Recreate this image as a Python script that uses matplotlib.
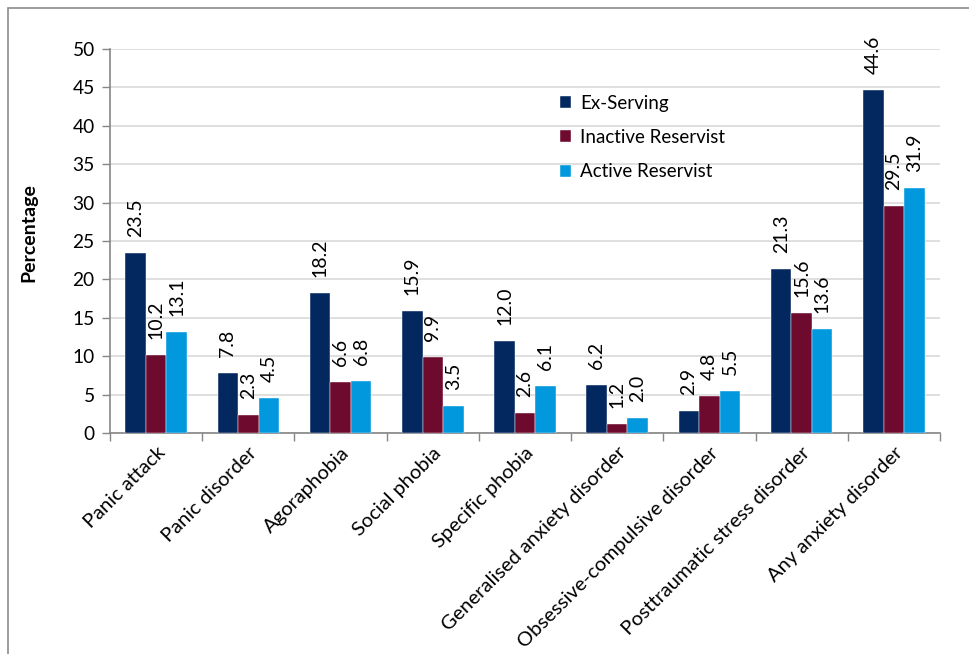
import matplotlib
matplotlib.use("Agg")
import matplotlib.pyplot as plt
import numpy as np
from matplotlib.patches import Rectangle

plt.rcParams['font.family'] = ['Lato', 'DejaVu Sans']

categories = ["Panic attack", "Panic disorder", "Agoraphobia", "Social phobia",
              "Specific phobia", "Generalised anxiety disorder",
              "Obsessive-compulsive disorder", "Posttraumatic stress disorder",
              "Any anxiety disorder"]
series_names = ["Ex-Serving", "Inactive Reservist", "Active Reservist"]
ex_serving = [23.5, 7.8, 18.2, 15.9, 12.0, 6.2, 2.9, 21.3, 44.6]
inactive_reservist = [10.2, 2.3, 6.6, 9.9, 2.6, 1.2, 4.8, 15.6, 29.5]
active_reservist = [13.1, 4.5, 6.8, 3.5, 6.1, 2.0, 5.5, 13.6, 31.9]
colors = ["#03275F", "#6E0A2D", "#0198DE"]
yticks = [0, 5, 10, 15, 20, 25, 30, 35, 40, 45, 50]

W, H = 969, 654
fig = plt.figure(figsize=(W / 100, H / 100), dpi=100)
ax = fig.add_axes([110 / W, 1 - 433 / H, 830 / W, 384 / H])

# outer frame
fig.patches.append(Rectangle((8 / W, -0.1), 1.2, 1 - 8 / H + 0.1, transform=fig.transFigure,
                             fill=False, edgecolor="#8C8C8C", linewidth=1.2, clip_on=False))

x = np.arange(len(categories))
bw = 1 / 4.5
data = [ex_serving, inactive_reservist, active_reservist]
for i, (vals, name, c) in enumerate(zip(data, series_names, colors)):
    pos = x + (i - 1) * bw
    ax.bar(pos, vals, width=bw, color=c, label=name, zorder=3,
           edgecolor="#FFFFFF", linewidth=0.3)
    for p, v in zip(pos, vals):
        ax.annotate(f"{v:.1f}", xy=(p, v), xytext=(0, 11.5), textcoords="offset points",
                    rotation=90, ha="center", va="bottom", fontsize=14, color="#000000",
                    zorder=4)

ax.set_xlim(-0.5, len(categories) - 0.5)
ax.set_ylim(0, 50)
ax.set_yticks(yticks)
ax.set_yticklabels([str(t) for t in yticks], fontsize=13.8)
ax.yaxis.grid(True, color="#D9D9D9", linewidth=1.2, zorder=0)
ax.set_axisbelow(True)

ax.set_xticks(np.arange(len(categories) + 1) - 0.5)
ax.set_xticklabels([])
ax.set_xticks(x, minor=True)
ax.set_xticklabels(categories, minor=True, rotation=45, ha="right", va="top",
                   rotation_mode="anchor", fontsize=14.5)
ax.tick_params(axis="x", which="minor", length=0, pad=8)
ax.tick_params(axis="x", which="major", length=6, color="#868686", width=1)
ax.tick_params(axis="y", length=6, color="#868686", width=1, pad=5)

for s in ["top", "right"]:
    ax.spines[s].set_visible(False)
for s in ["left", "bottom"]:
    ax.spines[s].set_color("#868686")
    ax.spines[s].set_linewidth(1.2)

ax.set_ylabel("Percentage", fontsize=14, fontweight="bold")
ax.yaxis.set_label_coords(-0.088, 0.523)

leg = ax.legend(loc="upper left", bbox_to_anchor=(552 / W, 1 - 87 / H),
                bbox_transform=fig.transFigure, frameon=False, fontsize=13.5,
                handlelength=0.6, handleheight=0.6, handletextpad=0.5,
                labelspacing=0.93, borderaxespad=0)

fig.savefig("out.png", dpi=100)
